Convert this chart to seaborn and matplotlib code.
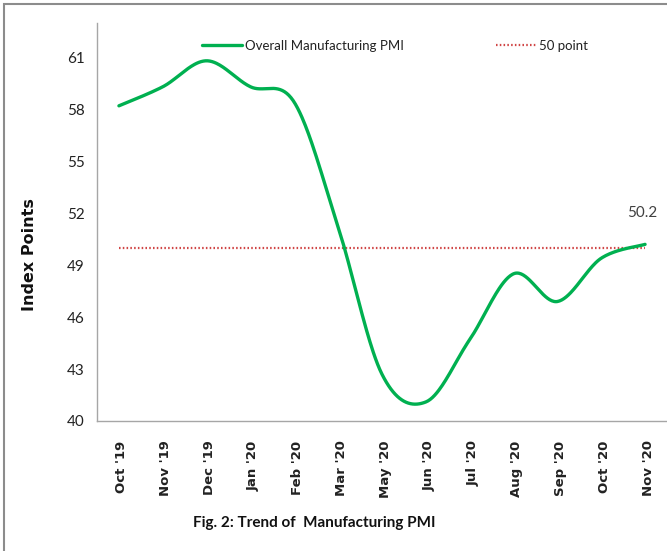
import numpy as np
import pandas as pd
import matplotlib
matplotlib.use("Agg")
import matplotlib.pyplot as plt
import matplotlib.transforms as mtransforms
import seaborn as sns
from matplotlib.patches import Rectangle

# ---- data ----
months = ["Oct '19", "Nov '19", "Dec '19", "Jan '20", "Feb '20", "Mar '20", "May '20",
          "Jun '20", "Jul '20", "Aug '20", "Sep '20", "Oct '20", "Nov '20"]
pmi = [58.2, 59.3, 60.8, 59.3, 58.4, 51.2, 42.7, 41.1, 44.7, 48.5, 46.9, 49.4, 50.2]
threshold = [50.0] * len(months)
yticks = [40, 43, 46, 49, 52, 55, 58, 61]
last_label = "50.2"

GREEN = "#00B050"
RED = "#D04545"
GRAY = "#A6A6A6"
NARROW = ["Lato", "DejaVu Sans"]


def excel_smooth(xs, ys, n=40):
    """Bezier smoothing like a spreadsheet 'smoothed line' (rendering only)."""
    P = np.column_stack([xs, ys]).astype(float)
    m = len(P)
    out = []
    for i in range(m - 1):
        p0 = P[i]
        p3 = P[i + 1]
        pm = P[i - 1] if i > 0 else P[i]
        pn = P[i + 2] if i + 2 < m else P[i + 1]
        c1 = p0 + (p3 - pm) / 6.0
        c2 = p3 - (pn - p0) / 6.0
        t = np.linspace(0, 1, n, endpoint=(i == m - 2))[:, None]
        seg = ((1 - t) ** 3) * p0 + 3 * ((1 - t) ** 2) * t * c1 + 3 * (1 - t) * t ** 2 * c2 + t ** 3 * p3
        out.append(seg)
    out = np.vstack(out)
    return out[:, 0], out[:, 1]


sns.set_style("white")
plt.rcParams["font.family"] = ["DejaVu Sans"]

fig = plt.figure(figsize=(6.67, 5.51), dpi=100)
ax = fig.add_axes([97 / 667, 1 - 421 / 551, 1 - 97 / 667, (421 - 22.7) / 551])

xpos = np.arange(len(months))
sx, sy = excel_smooth(xpos, pmi)
df_line = pd.DataFrame({"x": sx, "y": sy})
df_thr = pd.DataFrame({"x": xpos, "y": threshold})

sns.lineplot(data=df_thr, x="x", y="y", ax=ax, color=RED, linewidth=1.6,
             linestyle=(0, (0.7, 1.0)), label="50 point", sort=False)
sns.lineplot(data=df_line, x="x", y="y", ax=ax, color=GREEN, linewidth=2.4,
             label="Overall Manufacturing PMI", sort=False)

ax.set_xlim(-0.5, 12.45)
ax.set_ylim(40, 63)

ax.set_yticks(yticks)
ax.set_yticklabels([str(v) for v in yticks], fontsize=11, family=NARROW, color="#222222")
ax.set_xticks(xpos)
ax.set_xticklabels(months, rotation=90, fontsize=9.5, fontweight="bold", color="#222222")
ax.set_xticks(np.arange(-0.5, len(months), 1.0), minor=True)
ax.tick_params(axis="x", which="major", length=0, pad=14)
ax.tick_params(axis="x", which="minor", length=5, color=GRAY, width=1, direction="out")
ax.tick_params(axis="y", which="major", length=5, color=GRAY, width=1, direction="out", pad=4)
shift = mtransforms.ScaledTranslation(3 / 100, 0, fig.dpi_scale_trans)
for lbl in ax.get_xticklabels():
    lbl.set_transform(lbl.get_transform() + shift)

for s in ["top", "right"]:
    ax.spines[s].set_visible(False)
for s in ["left", "bottom"]:
    ax.spines[s].set_color(GRAY)
    ax.spines[s].set_linewidth(1.0)

ax.set_xlabel("")
ax.set_ylabel("")
fig.text(30 / 667, 1 - 255 / 551, "Index Points", rotation=90, ha="center", va="center",
         fontsize=11.5, fontweight="bold", color="#111111")

ax.text(xpos[-1] - 0.07, 52.0, last_label, ha="center", va="center",
        fontsize=11, family=NARROW, color="#404040")

handles, labels = ax.get_legend_handles_labels()
order = [labels.index("Overall Manufacturing PMI"), labels.index("50 point")]
leg = ax.legend([handles[i] for i in order], [labels[i] for i in order],
                loc="center", bbox_to_anchor=(395 / 667, 1 - 46 / 551),
                bbox_transform=fig.transFigure, ncol=2, frameon=False,
                handlelength=3.0, columnspacing=7.0, handletextpad=0.23,
                prop={"family": NARROW, "size": 9.5})
for t in leg.get_texts():
    t.set_color("#222222")

fig.text(314 / 667, 1 - 523 / 551, "Fig. 2: Trend of  Manufacturing PMI", ha="center",
         va="center", fontsize=11, fontweight="bold", family=NARROW, color="#111111")

# outer frame (screenshot border)
fig.patches.append(Rectangle((4 / 667, -0.05), 1.2, 1 - 4 / 551 + 0.05, transform=fig.transFigure,
                             fill=False, edgecolor="#8C8C8C", linewidth=1.5))

fig.savefig("out.png", dpi=100)
